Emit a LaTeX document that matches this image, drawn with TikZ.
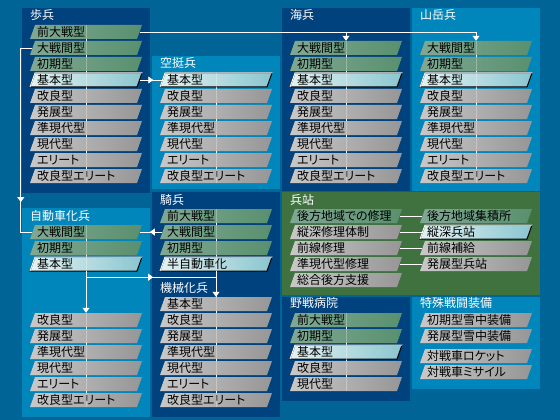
\documentclass[tikz,border=0pt]{standalone}
\usepackage{fontspec}
\newfontfamily\jp[RawFeature=+palt]{Noto Sans CJK JP}
\usepackage{tikz}
\usetikzlibrary{arrows.meta,decorations.markings,backgrounds}
\definecolor{bgBlue}{RGB}{0,100,150}
\definecolor{panelDark}{RGB}{0,66,126}
\definecolor{panelLight}{RGB}{0,134,186}
\definecolor{panelGreen}{RGB}{64,114,64}
\definecolor{greenL}{RGB}{128,168,148}
\definecolor{greenR}{RGB}{88,144,110}
\definecolor{greyL}{RGB}{200,200,200}
\definecolor{greyR}{RGB}{150,150,150}
\definecolor{hiL}{RGB}{228,242,242}
\definecolor{hiR}{RGB}{138,198,208}
% card: name, fill style, left x, bottom y, text
\newcommand\card[5]{%
  \path[#2] (#3,#4) -- ++(5,-14) -- ++(107,0) -- ++(-5,14) -- cycle;
  \node[cardtext] (#1) at (#3+56,#4-7) {#5};}

\begin{document}
\begin{tikzpicture}[x=1pt,y=-1pt,
    ptitle/.style={anchor=west,inner sep=0pt,text=white,font=\jp\fontsize{12}{13}\selectfont},
    cardtext/.style={minimum width=107pt,minimum height=14pt,inner ysep=0pt,inner xsep=4.5pt,
                     text width=98pt,align=left,font=\jp\fontsize{12}{13}\selectfont},
    greencard/.style={left color=greenL,right color=greenR},
    greycard/.style={left color=greyL,right color=greyR},
    hicard/.style={left color=hiL,right color=hiR,draw=black,line width=1pt,
                   postaction={draw=white,line width=1pt,dash pattern=on 121.9pt off 200pt}},
    wire/.style={white,line width=0.8pt},
    arrowend/.style={-{Triangle[width=7pt,length=5pt]}},
    midtip/.style={postaction={decorate},decoration={markings,
                   mark=at position #1 with {\arrow{Triangle[width=7pt,length=5pt]}}}},
    colline/.style={white,line width=0.8pt}
  ]
\useasboundingbox (0,0) rectangle (560,420);

\node[ptitle] (tHohei) at (30,15) {歩兵};
\node[ptitle] (tKuutei) at (160,63) {空挺兵};
\node[ptitle] (tKaihei) at (290,15) {海兵};
\node[ptitle] (tSangaku) at (420,15) {山岳兵};
\node[ptitle] (tJidou) at (30,216) {自動車化兵};
\node[ptitle] (tKihei) at (160,200) {騎兵};
\node[ptitle] (tKikai) at (160,288) {機械化兵};
\node[ptitle] (tHeitan) at (290,200) {兵站};
\node[ptitle] (tYasen) at (290,303) {野戦病院};
\node[ptitle] (tTokushu) at (420,303) {特殊戦闘装備};

\foreach \s/\txt [count=\i, evaluate=\i as \yb using int(23+16*\i)] in {greencard/前大戦型,greencard/大戦間型,
    greencard/初期型,hicard/基本型,greycard/改良型,greycard/発展型,greycard/準現代型,greycard/現代型,
    greycard/エリート,greycard/改良型エリート}
  \card{hohei\i}{\s}{30}{\yb}{\txt};
\foreach \s/\txt [count=\i, evaluate=\i as \yb using int(71+16*\i)] in {hicard/基本型,greycard/改良型,
    greycard/発展型,greycard/準現代型,greycard/現代型,greycard/エリート,greycard/改良型エリート}
  \card{kuutei\i}{\s}{160}{\yb}{\txt};
\foreach \s/\txt [count=\i, evaluate=\i as \yb using int(39+16*\i)] in {greencard/大戦間型,greencard/初期型,
    hicard/基本型,greycard/改良型,greycard/発展型,greycard/準現代型,greycard/現代型,greycard/エリート,
    greycard/改良型エリート}
  \card{kaihei\i}{\s}{290}{\yb}{\txt};
\foreach \s/\txt [count=\i, evaluate=\i as \yb using int(39+16*\i)] in {greencard/大戦間型,greencard/初期型,
    hicard/基本型,greycard/改良型,greycard/発展型,greycard/準現代型,greycard/現代型,greycard/エリート,
    greycard/改良型エリート}
  \card{sangaku\i}{\s}{420}{\yb}{\txt};
\foreach \s/\txt [count=\i, evaluate=\i as \yb using int(223+16*\i)] in {greencard/大戦間型,greencard/初期型,
    hicard/基本型}
  \card{jidou\i}{\s}{30}{\yb}{\txt};
\foreach \txt [count=\i from 4, evaluate=\i as \yb using int(263+16*\i)] in {改良型,発展型,準現代型,現代型,
    エリート,改良型エリート}
  \card{jidou\i}{greycard}{30}{\yb}{\txt};
\foreach \s/\txt [count=\i, evaluate=\i as \yb using int(207+16*\i)] in {greencard/前大戦型,greencard/大戦間型,
    greencard/初期型,hicard/半自動車化}
  \card{kihei\i}{\s}{160}{\yb}{\txt};
\foreach \txt [count=\i, evaluate=\i as \yb using int(295+16*\i)] in {基本型,改良型,発展型,準現代型,現代型,
    エリート,改良型エリート}
  \card{kikai\i}{greycard}{160}{\yb}{\txt};
\foreach \s/\txt [count=\i, evaluate=\i as \yb using int(207+16*\i)] in {greencard/後方地域での修理,
    greycard/縦深修理体制,greycard/前線修理,greycard/準現代型修理,greycard/総合後方支援}
  \card{heitanA\i}{\s}{290}{\yb}{\txt};
\foreach \s/\txt [count=\i, evaluate=\i as \yb using int(207+16*\i)] in {greencard/後方地域集積所,
    hicard/縦深兵站,greycard/前線補給,greycard/発展型兵站}
  \card{heitanB\i}{\s}{420}{\yb}{\txt};
\foreach \s/\txt [count=\i, evaluate=\i as \yb using int(311+16*\i)] in {greencard/前大戦型,greencard/初期型,
    hicard/基本型,greycard/改良型,greycard/現代型}
  \card{yasen\i}{\s}{290}{\yb}{\txt};
\foreach \yb/\txt [count=\i] in {327/初期型雪中装備,343/発展型雪中装備,363/対戦車ロケット,379/対戦車ミサイル}
  \card{tokushu\i}{greycard}{420}{\yb}{\txt};

\begin{scope}[on background layer]
  \fill[bgBlue] (0,0) rectangle (560,420);
  \fill[panelDark] (22,8) rectangle (150,193);
  \fill[panelLight] (152,56) rectangle (280,189);
  \fill[panelDark] (282,8) rectangle (410,191);
  \fill[panelLight] (412,8) rectangle (540,191);
  \fill[panelLight] (22,208) rectangle (150,417);
  \fill[panelDark] (152,192) rectangle (280,417);
  \fill[panelGreen] (282,192) rectangle (540,295);
  \fill[panelDark] (282,297) rectangle (410,401);
  \fill[panelLight] (412,297) rectangle (540,389);
  \foreach \a/\b in {hohei1/hohei10,kuutei1/kuutei7,kaihei1/kaihei9,sangaku1/sangaku9,jidou1/jidou3,
      jidou4/jidou9,kihei1/kihei4,kikai1/kikai7,yasen1/yasen5}
    \draw[colline] (\a.north) -- (\b.south);
\end{scope}
\foreach \a/\b in {hohei1/hohei10,kuutei1/kuutei7,kaihei1/kaihei9,sangaku1/sangaku9,jidou1/jidou3,
    jidou4/jidou9,kihei1/kihei4,kikai1/kikai7,yasen1/yasen5}
  \draw[colline,opacity=0.3] (\a.north) -- (\b.south);

\draw[wire,arrowend] (hohei1.east) -| (kaihei1.north);
\draw[wire,arrowend] (hohei1.east) -| (sangaku1.north);
\draw[wire,midtip=0.6] (hohei4.east) -- (kuutei1.west);
\draw[wire,midtip=0.8] (hohei2.west) -- ++(-11.5,0) |- (jidou1.west);
\draw[wire,midtip=0.55] (kihei2.west) -- (jidou1.east);
\draw[wire,arrowend] (jidou3.south) -- (jidou4.north);
\draw[wire,midtip=0.47] (jidou3.south) -- ++(0,6) -| (kikai1.north);
\draw[wire,arrowend] (kihei4.south) -- (kikai1.north);
\foreach \i in {1,...,4}
  \draw[wire] (heitanA\i.east) -- (heitanB\i.west);
\end{tikzpicture}
\end{document}
